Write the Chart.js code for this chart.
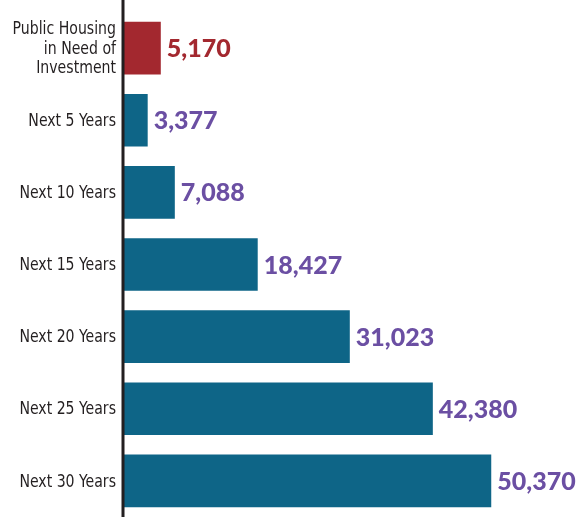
<!DOCTYPE html>
<html>
<head>
<meta charset="utf-8">
<script src="https://cdn.jsdelivr.net/npm/chart.js@4/dist/chart.umd.min.js"></script>
<style>
    body { margin: 0; background: #fff; }
    #wrap { width: 577px; height: 517px; position: relative; }
</style>
</head>
<body>
<div id="wrap"><canvas id="housingChart"></canvas></div>
<script>
const categories = [
    ["Public Housing", "in Need of", "Investment"],
    "Next 5 Years",
    "Next 10 Years",
    "Next 15 Years",
    "Next 20 Years",
    "Next 25 Years",
    "Next 30 Years"
];

const units = [5170, 3377, 7088, 18427, 31023, 42380, 50370];

const barColors = ["#a3282f", "#0e6587", "#0e6587", "#0e6587", "#0e6587", "#0e6587", "#0e6587"];
const labelColors = ["#a3282f", "#6b4fa3", "#6b4fa3", "#6b4fa3", "#6b4fa3", "#6b4fa3", "#6b4fa3"];

// value labels at the end of each bar
const valueLabels = {
    id: "valueLabels",
    afterDatasetsDraw(chart) {
        const ctx = chart.ctx;
        const meta = chart.getDatasetMeta(0);
        ctx.save();
        ctx.font = "900 25px Lato";
        ctx.textBaseline = "middle";
        ctx.textAlign = "left";
        meta.data.forEach((bar, i) => {
            ctx.fillStyle = labelColors[i];
            ctx.fillText(units[i].toLocaleString("en-US"), bar.x + 6, bar.y + 1);
        });
        ctx.restore();
    }
};

// category names, squeezed a little to look like a condensed face
const categoryLabels = {
    id: "categoryLabels",
    afterDraw(chart) {
        const ctx = chart.ctx;
        const yScale = chart.scales.y;
        const right = chart.chartArea.left - 7;
        const squeeze = 0.87;
        const lineH = 19.5;
        ctx.save();
        ctx.font = "18px 'DejaVu Sans Condensed', sans-serif";
        ctx.fillStyle = "#231f20";
        ctx.textBaseline = "middle";
        ctx.textAlign = "right";
        categories.forEach((label, i) => {
            const lines = Array.isArray(label) ? label : [label];
            const y0 = yScale.getPixelForTick(i) - (lines.length - 1) * lineH / 2;
            lines.forEach((line, j) => {
                ctx.save();
                ctx.translate(right, y0 + j * lineH + 1);
                ctx.scale(squeeze, 1);
                ctx.fillText(line, 0, 0);
                ctx.restore();
            });
        });
        ctx.restore();
    }
};

// vertical axis line running the full height
const axisLine = {
    id: "axisLine",
    afterDraw(chart) {
        const ctx = chart.ctx;
        const x = chart.chartArea.left;
        ctx.save();
        ctx.strokeStyle = "#231f20";
        ctx.lineWidth = 3;
        ctx.beginPath();
        ctx.moveTo(x, 0);
        ctx.lineTo(x, chart.height);
        ctx.stroke();
        ctx.restore();
    }
};

new Chart(document.getElementById("housingChart"), {
    type: "bar",
    data: {
        labels: categories,
        datasets: [{
            data: units,
            backgroundColor: barColors,
            categoryPercentage: 1,
            barPercentage: 0.73
        }]
    },
    options: {
        indexAxis: "y",
        responsive: true,
        maintainAspectRatio: false,
        animation: false,
        layout: { padding: { top: 12, bottom: 0, right: 0, left: 0 } },
        plugins: {
            legend: { display: false },
            tooltip: { enabled: false }
        },
        scales: {
            x: {
                display: false,
                min: 0,
                max: 62100
            },
            y: {
                afterFit(scale) {
                    scale.width = 123;
                    scale.paddingTop = 0;
                    scale.paddingBottom = 0;
                },
                grid: { display: false, drawTicks: false },
                border: { display: false },
                ticks: { display: false }
            }
        }
    },
    plugins: [valueLabels, categoryLabels, axisLine]
});
</script>
</body>
</html>
